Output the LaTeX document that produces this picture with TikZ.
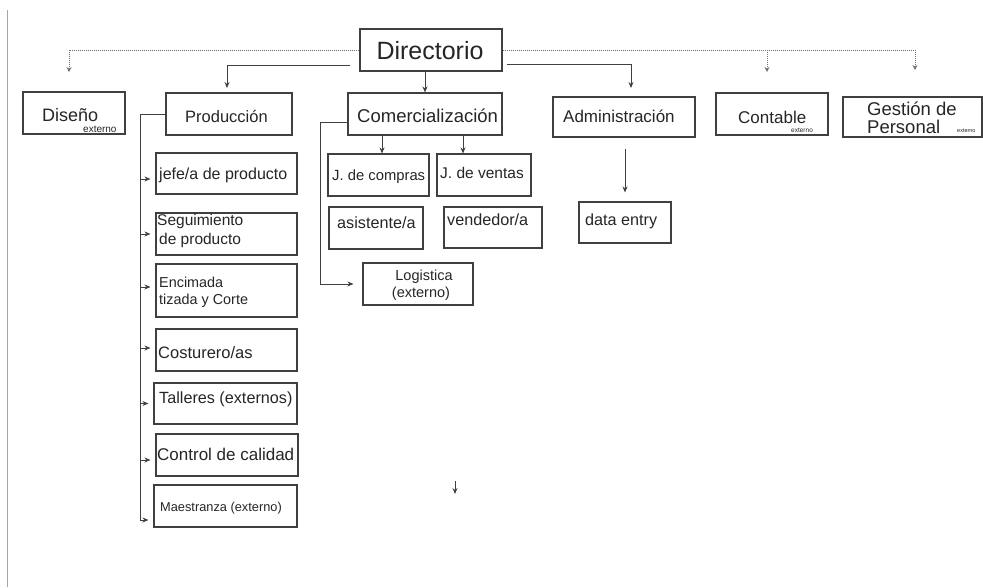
\documentclass[tikz,border=0pt]{standalone}
\usepackage{fontspec}
\setmainfont{Liberation Sans}
\usetikzlibrary{arrows.meta}
\tikzset{
  box/.style={draw=black!75, line width=1.1pt, inner sep=0pt},
  lbl/.style={anchor=base west, inner sep=0pt, text=black!85},
  arr/.style={draw=black!75, line width=0.9pt, -{Stealth[length=6pt,width=5pt]}},
  dots/.style={draw=black!55, line width=1pt, dash pattern=on 1pt off 1pt, -{Stealth[length=5pt,width=5pt]}},
  ln/.style={draw=black!75, line width=0.9pt},
}
\newcommand\fs[1]{\fontsize{#1}{#1}\selectfont}
\newcommand\mkbox[5]{\node[box, minimum width={#4pt-#2pt}, minimum height={#5pt-#3pt}] (#1) at ({(#2+#4)/2},{(#3+#5)/2}) {};}
\begin{document}
\begin{tikzpicture}[x=1pt,y=-1pt]
\fill[white] (0,0) rectangle (983,587);
\useasboundingbox (0,0) rectangle (983,587);
\draw[black!35, line width=1pt] (7,10) -- (7,587);

% boxes
\mkbox{dir}{360}{29}{502}{71}
\mkbox{dis}{23}{92}{125}{134}
\mkbox{prod}{166}{93}{292}{135}
\mkbox{com}{348}{93}{502}{135}
\mkbox{adm}{553}{97}{695}{137}
\mkbox{con}{716}{93}{828}{135}
\mkbox{ges}{843}{97}{982}{137}
\mkbox{jefe}{156}{153}{297}{194}
\mkbox{seg}{156}{213}{297}{255}
\mkbox{enc}{156}{264}{297}{317}
\mkbox{cost}{156}{329}{297}{371}
\mkbox{tall}{154}{383}{297}{424}
\mkbox{ctrl}{156}{434}{298}{476}
\mkbox{maes}{154}{485}{297}{527}
\mkbox{comp}{328}{154}{429}{196}
\mkbox{vent}{437}{154}{531}{196}
\mkbox{asis}{329}{207}{423}{249}
\mkbox{vend}{444}{207}{542}{248}
\mkbox{log}{363}{263}{473}{305}
\mkbox{dat}{579}{202}{671}{243}

% labels
\node[lbl, anchor=base] (tDir) at (430,59) {\fs{25}Directorio};
\node[lbl] (tDis) at (42,121) {\fs{18}Diseño};
\node[lbl] (tDisE) at (83,132.5) {\fs{10}externo};
\node[lbl] (tProd) at (185,122) {\fs{16.5}Producción};
\node[lbl] (tCom) at (357,122) {\fs{18.5}Comercialización};
\node[lbl] (tAdm) at (563,122) {\fs{17}Administración};
\node[lbl] (tCon) at (738,123) {\fs{17}Contable};
\node[lbl] (tConE) at (791,132) {\fs{6.5}externo};
\node[lbl] (tGes1) at (867,115) {\fs{18.5}Gestión de};
\node[lbl] (tGes2) at (867,133) {\fs{18.5}Personal};
\node[lbl] (tGesE) at (957,132) {\fs{5.5}externo};
\node[lbl] (tJefe) at (159,179) {\fs{16}jefe/a de producto};
\node[lbl] (tSeg1) at (157,225) {\fs{15.5}Seguimiento};
\node[lbl] (tSeg2) at (159,244) {\fs{15.5}de producto};
\node[lbl] (tEnc1) at (159,287) {\fs{14.4}Encimada};
\node[lbl] (tEnc2) at (159,304) {\fs{14.4}tizada y Corte};
\node[lbl] (tCost) at (158,358) {\fs{16.5}Costurero/as};
\node[lbl] (tTall) at (159,403) {\fs{16.2}Talleres (externos)};
\node[lbl] (tCtrl) at (157,460) {\fs{17}Control de calidad};
\node[lbl] (tMaes) at (160,511) {\fs{12.8}Maestranza (externo)};
\node[lbl] (tComp) at (332,180) {\fs{14.8}J. de compras};
\node[lbl] (tVent) at (440,178) {\fs{15.5}J. de ventas};
\node[lbl] (tAsis) at (337,228) {\fs{16.2}asistente/a};
\node[lbl] (tVend) at (447,225) {\fs{16.2}vendedor/a};
\node[lbl, anchor=base] (tLog1) at (424,280) {\fs{14.5}Logistica};
\node[lbl, anchor=base] (tLog2) at (421,297) {\fs{14.5}(externo)};
\node[lbl] (tDat) at (585,225) {\fs{16.2}data entry};

% solid connectors from Directorio
\coordinate (dirP) at (350,65);
\coordinate (prodTop) at (227,88);
\draw[arr] (dirP) -| (prodTop);
\draw[arr] (dir.south -| com.north) -- (com.north);
\coordinate (dirA) at (507,64);
\coordinate (admTop) at (631,88);
\draw[arr] (dirA) -| (admTop);

% dotted connectors (externos)
\coordinate (disTop) at (69,72);
\coordinate (conTop) at (767,72);
\coordinate (gesTop) at (915,70);
\draw[dots] (dir.west) -| (disTop);
\draw[dots] (dir.east) -| (gesTop);
\draw[dots] (dir.east -| conTop) -- (conTop);

% Produccion bracket
\coordinate (pb) at (140,520);
\draw[ln] (prod.west) -| (pb);
\draw[arr, shorten >=5pt] ([yshift=-5.5pt]jefe.west -| pb) -- ([yshift=-5.5pt]jefe.west);
\draw[arr, shorten >=5pt] (seg.west -| pb) -- (seg.west);
\draw[arr, shorten >=5pt] ([yshift=3.5pt]enc.west -| pb) -- ([yshift=3.5pt]enc.west);
\draw[arr, shorten >=5pt] ([yshift=2pt]cost.west -| pb) -- ([yshift=2pt]cost.west);
\draw[arr, shorten >=5pt] (tall.west -| pb) -- (tall.west);
\draw[arr, shorten >=5pt] ([yshift=-5pt]ctrl.west -| pb) -- ([yshift=-5pt]ctrl.west);
\draw[arr, shorten >=5pt] ([yshift=-14pt]maes.west -| pb) -- ([yshift=-14pt]maes.west);

% Comercializacion
\coordinate (cb) at (320,122);
\draw[arr, shorten >=9pt] ([yshift=-8pt]com.west) -- (cb) |- (log.west);
\coordinate (cpTop) at ([xshift=3.5pt]comp.north);
\draw[arr] (com.south -| cpTop) -- (cpTop);
\coordinate (vtTop) at ([xshift=-21pt]vent.north);
\draw[arr] (com.south -| vtTop) -- (vtTop);

% Administracion -> data entry
\draw[arr, shorten <=11pt, shorten >=9pt] (adm.south -| dat.north) -- (dat.north);

% stray arrow
\coordinate (s1) at (455,481);
\coordinate (s2) at (455,494);
\draw[arr] (s1) -- (s2);
\end{tikzpicture}
\end{document}
